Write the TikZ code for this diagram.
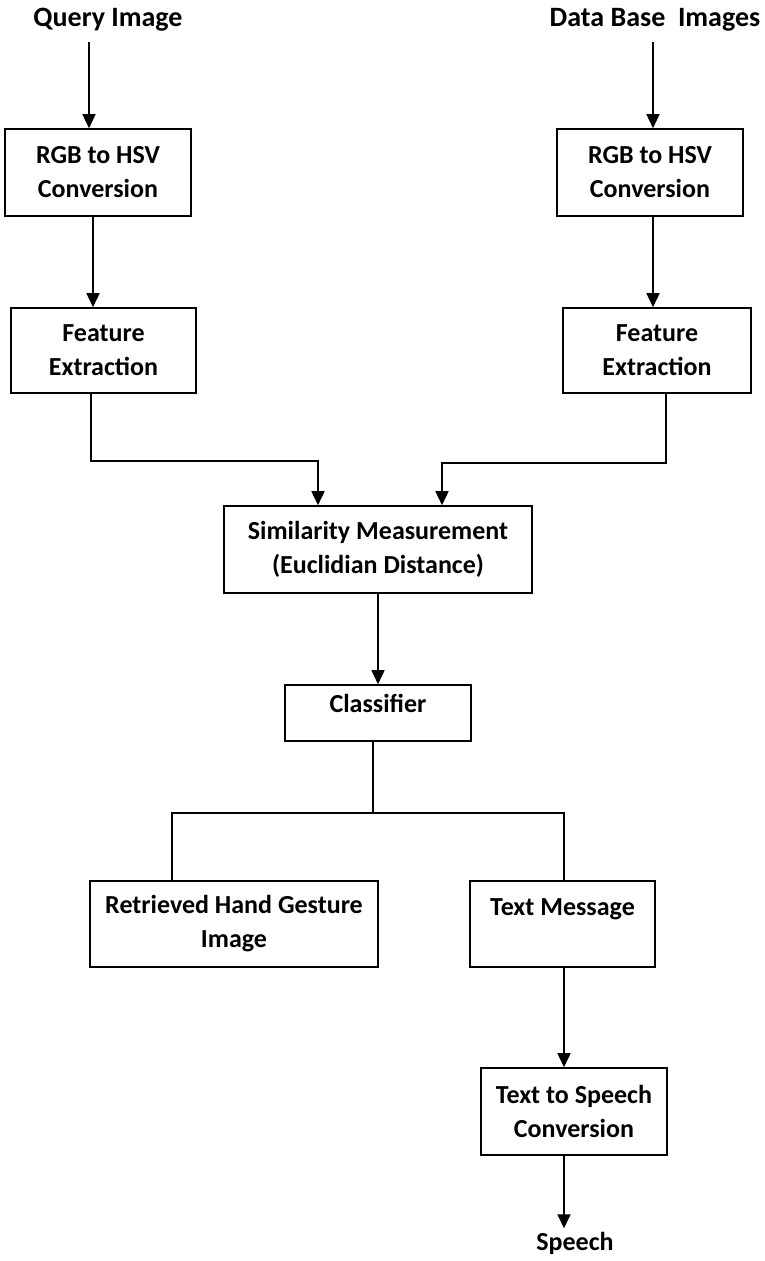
\documentclass[tikz,border=0pt]{standalone}
\usepackage{fontspec}
\setmainfont{Carlito}
\usepackage{tikz}
\usetikzlibrary{arrows.meta}

\tikzset{
	label font/.style = {font=\bfseries\fontsize{26}{34}\selectfont},
	title font/.style = {font=\bfseries\fontsize{28}{34}\selectfont},
	block/.style = {draw, rectangle, line width=1.6pt, inner sep=0pt, align=center, label font},
	flow/.style = {line width=1.6pt, -{Triangle[width=13pt,length=14pt]}},
	link/.style = {line width=1.6pt},
}

\begin{document}
\begin{tikzpicture}[x=1pt, y=-1pt]
			\useasboundingbox (0,0) rectangle (765,1261);
			% inputs
			\node[title font] (query) at (108,20) {Query Image};
			\node[title font] (dbase) at (655,20) {Data Base~~Images};
			% query side
			\node[block, minimum width=186pt, minimum height=87pt] (rgbL) at (98,172.5) {RGB to HSV\\Conversion};
			\node[block, minimum width=185pt, minimum height=85pt] (featL) at (103.5,350.5) {Feature\\Extraction};
			% data base side
			\node[block, minimum width=186pt, minimum height=87pt] (rgbR) at (650,172.5) {RGB to HSV\\Conversion};
			\node[block, minimum width=188pt, minimum height=85pt] (featR) at (657,350.5) {Feature\\Extraction};
			% matching
			\node[block, minimum width=308pt, minimum height=87pt] (sim) at (378,549.5) {Similarity Measurement\\(Euclidian Distance)};
			\node[block, minimum width=186pt, minimum height=56pt, text depth=20pt] (clf) at (378,713) {Classifier};
			% outputs
			\node[block, minimum width=288pt, minimum height=86pt] (ret) at (234,924) {Retrieved Hand Gesture\\Image};
			\node[block, minimum width=185pt, minimum height=86pt, text depth=33pt] (msg) at (562.5,924) {Text Message};
			\node[block, minimum width=186pt, minimum height=87pt] (tts) at (574,1111.5) {Text to Speech\\Conversion};
			\node[label font] (speech) at (575,1243) {Speech};
			% junctions
			\coordinate (jL) at (91,461);
			\coordinate (jR) at (666,463);
			\coordinate (split) at (373,813);
			% arrows, query side
			\draw[flow, shorten <=7pt] ([xshift=-9pt]rgbL.north |- query.south) -- ([xshift=-9pt]rgbL.north);
			\draw[flow] ([xshift=-5pt]rgbL.south) -- ([xshift=-5pt]rgbL.south |- featL.north);
			\draw[flow] (featL.south -| jL) -- (jL) -| ([xshift=-60pt]sim.north);
			% arrows, data base side
			\draw[flow, shorten <=7pt] ([xshift=3pt]rgbR.north |- dbase.south) -- ([xshift=3pt]rgbR.north);
			\draw[flow] ([xshift=3pt]rgbR.south) -- ([xshift=3pt]rgbR.south |- featR.north);
			\draw[flow] (featR.south -| jR) -- (jR) -| ([xshift=64pt]sim.north);
			% classifier and split
			\draw[flow] (sim) -- (clf);
			\draw[link] (clf.south -| split) -- (split);
			\draw[link] ([xshift=-62pt]ret.north) |- (split) -| ([xshift=1.5pt]msg.north);
			% speech
			\draw[flow] ([xshift=1.5pt]msg.south) -- ([xshift=1.5pt]msg.south |- tts.north);
			\draw[flow] ([xshift=1.5pt]msg.south |- tts.south) -- ([xshift=1.5pt]msg.south |- speech.north);
\end{tikzpicture}
\end{document}
